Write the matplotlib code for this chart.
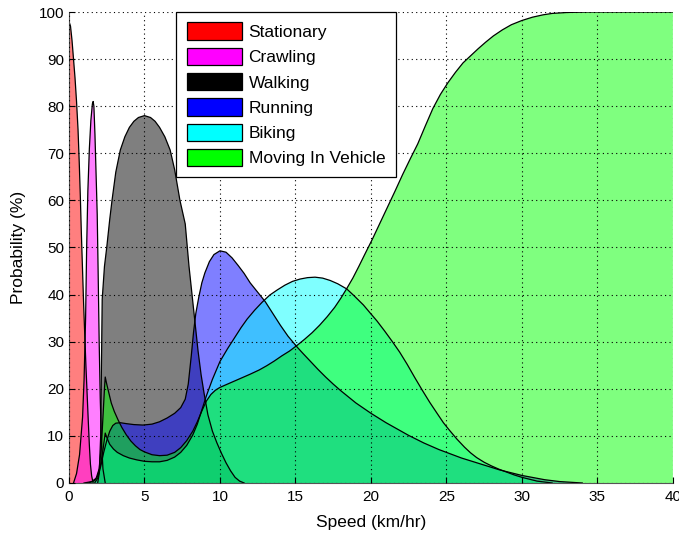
import matplotlib
matplotlib.use("Agg")
import matplotlib.pyplot as plt
from matplotlib.patches import Patch

plt.rcParams["font.family"] = ["Liberation Sans", "DejaVu Sans"]

labels = ["Stationary", "Crawling", "Walking", "Running", "Biking", "Moving In Vehicle"]
colors = ["#FF0000", "#FF00FF", "#000000", "#0000FF", "#00FFFF", "#00FF00"]

# Speed (km/hr) and probability (%)
stationary_x = [0, 0.1, 0.2, 0.3, 0.4, 0.5, 0.6, 0.68, 0.75, 0.82, 0.9, 0.97, 1.05,
                1.12, 1.2, 1.28, 1.35, 1.42, 1.5, 1.6]
stationary_y = [98, 97, 94, 90, 86, 81, 75, 68, 61, 53, 45, 38, 31,
                25, 19, 13, 8, 4, 1.5, 0]

crawling_x = [0.3, 0.5, 0.7, 0.9, 1.0, 1.1, 1.17, 1.25, 1.35, 1.45, 1.55, 1.6, 1.65,
              1.72, 1.8, 1.87, 1.93, 2.0, 2.07, 2.15, 2.25, 2.4]
crawling_y = [0, 2, 6, 14, 22, 35, 50, 62, 71, 77, 80.5, 81, 80,
              74, 65, 57, 45, 30, 18, 9, 3, 0]

walking_x = [1.9, 2.0, 2.1, 2.15, 2.2, 2.35, 2.5, 2.7, 2.85, 3.1, 3.4, 3.7, 4.0, 4.3,
             4.6, 5.0, 5.4, 5.7, 6.0, 6.35, 6.7, 7.0, 7.35, 7.7, 7.95, 8.15, 8.35,
             8.55, 8.75, 8.95, 9.2, 9.5, 9.8, 10.1, 10.4, 10.7, 11.0, 11.3, 11.6]
walking_y = [0, 2, 10, 25, 39, 46, 50, 56, 60, 66, 70.7, 73.5, 75.5, 76.8,
             77.6, 78, 77.6, 76.8, 75.5, 73.5, 70.7, 66.5, 60, 55, 46, 40, 34,
             28, 23, 19, 14.5, 11, 8.5, 6.3, 4.3, 2.6, 1.2, 0.4, 0]

running_x = [1.7, 1.9, 2.1, 2.3, 2.5, 2.7, 2.9, 3.1, 3.4, 3.8, 4.3, 4.9, 5.5, 6.0,
             6.5, 7.0, 7.4, 7.7, 7.9, 8.1, 8.25, 8.4, 8.6, 8.8, 9.0, 9.3, 9.6,
             10.0, 10.4, 10.8, 11.2, 11.6, 12.0, 12.5, 13.0, 13.5, 14.0, 14.5,
             15.1, 15.5, 16.0, 16.5, 17.0, 17.5, 18.0, 18.5, 19.0, 19.5, 20.0,
             20.5, 21.0, 21.5, 22.0, 22.5, 23.0, 23.5, 24.0, 24.5, 25.0, 25.5,
             26.0, 26.5, 27.0, 27.5, 28.0, 28.5, 29.0, 29.5, 30.0, 30.5, 31.0,
             31.5, 32.0, 32.5, 33.0, 33.5, 34.0]
running_y = [0, 1, 3.5, 6.5, 9, 11, 12.2, 12.7, 12.8, 12.6, 12.4, 12.3, 12.5, 13,
             13.8, 14.8, 16, 17.8, 21, 27, 32, 36, 39.5, 42.5, 44.6, 47, 48.5,
             49.3, 49, 47.8, 46.2, 44.5, 42.5, 40.5, 38.5, 36, 33.5, 31.2,
             28.9, 27.5, 25.8, 24.1, 22.5, 21, 19.6, 18.3, 17.0, 15.9, 14.8,
             13.8, 12.8, 11.9, 11.0, 10.1, 9.3, 8.5, 7.8, 7.1, 6.5, 5.9,
             5.3, 4.8, 4.3, 3.8, 3.3, 2.8, 2.4, 2.0, 1.6, 1.3, 1.0,
             0.7, 0.5, 0.3, 0.2, 0.1, 0]

biking_x = [1.3, 1.7, 1.9, 2.1, 2.25, 2.4, 2.55, 2.7, 2.95, 3.2, 3.6, 4.0, 4.5, 5.0,
            5.5, 6.0, 6.5, 7.0, 7.4, 7.8, 8.2, 8.5, 8.8, 9.1, 9.5, 10.0, 10.5,
            10.9, 11.4, 11.8, 12.3, 12.8, 13.3, 13.8, 14.3, 14.8, 15.3, 15.8,
            16.3, 16.8, 17.3, 17.8, 18.4, 18.9, 19.5, 20.0, 20.4, 20.9, 21.4,
            21.9, 22.4, 22.9, 23.4, 23.9, 24.4, 24.8, 25.2, 25.7, 26.2, 26.6,
            27.0, 27.5, 28.0, 28.5, 29.0, 29.5, 30.0, 30.5, 31.0, 31.5, 32.0]
biking_y = [0, 0.5, 1.5, 4, 7, 10.6, 9.3, 8.2, 7.2, 6.5, 5.8, 5.3, 4.9, 4.6,
            4.5, 4.5, 4.8, 5.5, 6.5, 8, 10.2, 12.5, 15.5, 18.5, 22, 25.8, 28.5,
            30.5, 33, 34.8, 36.7, 38.4, 39.9, 41, 42, 42.8, 43.3, 43.6,
            43.7, 43.5, 43.0, 42.3, 41.2, 39.7, 37.8, 35.9, 34.4, 32.3, 30.1,
            27.8, 25.2, 22.4, 19.7, 17.1, 14.7, 12.8, 11.2, 9.3, 7.6, 6.4,
            5.4, 4.4, 3.6, 2.9, 2.3, 1.7, 1.2, 0.8, 0.4, 0.2, 0]

vehicle_x = [1.0, 1.5, 1.8, 2.0, 2.15, 2.25, 2.35, 2.4, 2.5, 2.65, 2.8, 3.0, 3.25,
             3.5, 3.8, 4.1, 4.4, 4.7, 5.0, 5.5, 6.0, 6.5, 7.0, 7.4, 7.8, 8.2, 8.5,
             8.8, 9.1, 9.4, 9.7, 10.0, 10.5, 11.0, 11.5, 12.0, 12.6, 13.1, 13.6,
             14.1, 14.6, 15.1, 15.6, 16.1, 16.6, 17.1, 17.6, 18.0, 18.4, 18.8,
             19.2, 19.6, 20.1, 20.6, 21.1, 21.6, 22.1, 22.6, 23.1, 23.6, 24.1,
             24.6, 25.1, 25.6, 26.1, 26.6, 27.1, 27.6, 28.1, 28.7, 29.3, 30.0,
             30.7, 31.4, 32.0, 33.0, 34.4, 40.0]
vehicle_y = [0, 0.3, 1, 3, 8, 14, 20, 22.5, 21, 19, 17, 15.2, 13.4,
             11.8, 10.2, 8.9, 7.9, 7.1, 6.6, 6.0, 5.8, 5.9, 6.5, 7.5, 9, 11, 13,
             15.3, 17.4, 18.8, 19.7, 20.3, 21.0, 21.7, 22.4, 23.1, 24.0, 24.9, 25.9,
             27.0, 28.0, 29.2, 30.5, 31.9, 33.5, 35.3, 37.3, 39.2, 41.3, 43.5,
             46, 48.6, 51.8, 55.2, 58.6, 62, 65.5, 68.8, 72, 75.8, 79.5,
             82.5, 85, 87.2, 89.2, 90.7, 92.2, 93.6, 94.9, 96.2, 97.3, 98.2,
             98.9, 99.4, 99.7, 99.9, 100, 100]

series = [
    (stationary_x, stationary_y),
    (crawling_x, crawling_y),
    (walking_x, walking_y),
    (running_x, running_y),
    (biking_x, biking_y),
    (vehicle_x, vehicle_y),
]

fig = plt.figure(figsize=(6.79, 5.36), dpi=100)
ax = fig.add_axes([0.1016, 0.0989, 0.8894, 0.8787])

for (x, y), c in zip(series, colors):
    ax.fill_between(x, y, 0, facecolor=c, alpha=0.5, edgecolor="none")
    ax.plot(x, y, color="black", linewidth=0.9)

ax.set_xlim(0, 40)
ax.set_ylim(0, 100)
ax.set_xticks(range(0, 41, 5))
ax.set_yticks(range(0, 101, 10))
ax.grid(True, linestyle=(0, (1, 3)), color="black", linewidth=0.8)
ax.set_axisbelow(False)
for s in ["top", "right"]:
    ax.spines[s].set_visible(False)
for s in ["left", "bottom"]:
    ax.spines[s].set_color("#555555")
ax.tick_params(direction="in", length=4, labelsize=11, top=False, right=False)
ax.tick_params(axis="x", pad=5)
ax.set_xlabel("Speed (km/hr)", fontsize=12.5, labelpad=8)
ax.set_ylabel("Probability (%)", fontsize=12.5, labelpad=9)

handles = [Patch(facecolor=c, edgecolor="black", linewidth=0.9) for c in colors]
leg = ax.legend(handles, labels, loc="upper left", bbox_to_anchor=(0.178, 1.0),
                fontsize=12.5, handlelength=3.2, handleheight=1.15, labelspacing=0.45,
                handletextpad=0.35, borderpad=0.6, borderaxespad=0.0,
                fancybox=False, framealpha=1.0, edgecolor="black")
leg.get_frame().set_linewidth(0.9)

fig.savefig("out.png", dpi=100)
